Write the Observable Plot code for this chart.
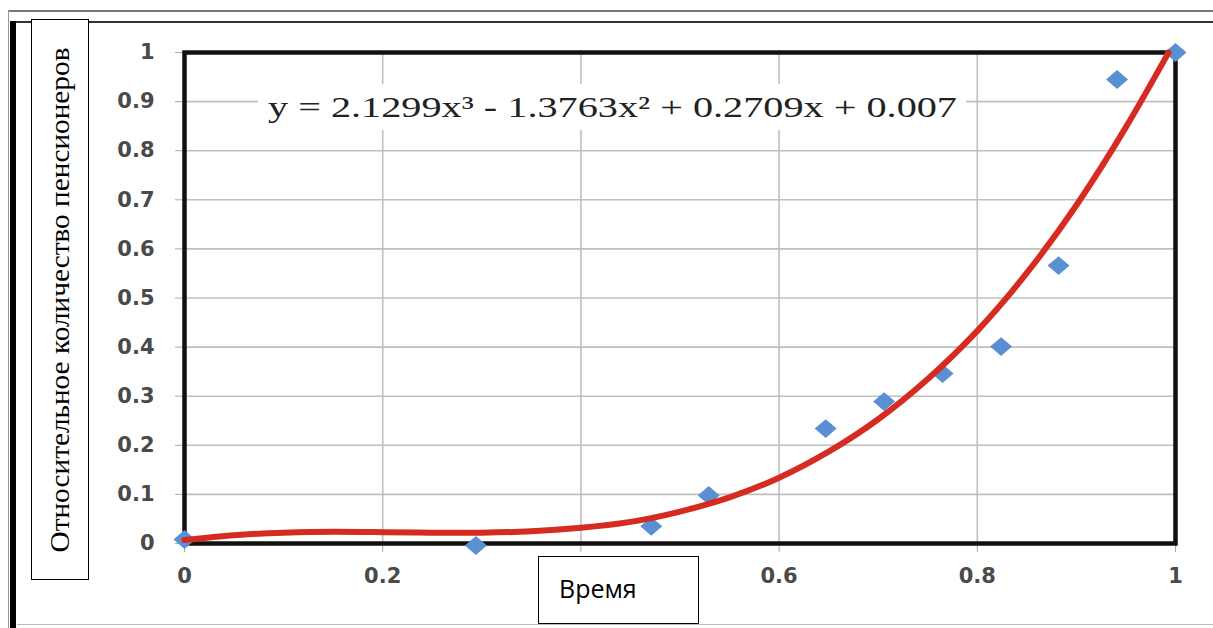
<!DOCTYPE html>
<html><head><meta charset="utf-8">
<script src="https://cdn.jsdelivr.net/npm/d3@7"></script>
<script src="https://cdn.jsdelivr.net/npm/@observablehq/plot@0.6"></script>
<style>
body{margin:0;background:#fff;}
#wrap{position:relative;width:1213px;height:628px;overflow:hidden;background:#fff;}
#chart{position:absolute;left:0;top:0;}
.line{position:absolute;}
#ylab{position:absolute;left:31px;top:19px;width:56px;height:559px;border:1.5px solid #000;background:#fff;overflow:hidden;}
#ylab span{position:absolute;left:50%;top:50%;font-family:"Liberation Serif","Times New Roman",serif;font-size:27px;line-height:1;color:#000;white-space:nowrap;}
#xlab{position:absolute;left:538px;top:556px;box-sizing:border-box;width:161px;height:68px;border:1.5px solid #000;background:#fff;font-family:"Open Sans",sans-serif;font-size:25px;line-height:62px;padding-left:20px;color:#000;}
#eqbox{position:absolute;left:258px;top:84px;width:708px;height:46px;background:#fff;}
#eq{position:absolute;left:10px;top:0;font-family:"Liberation Serif","Times New Roman",serif;font-size:30px;line-height:46px;color:#222;white-space:nowrap;transform-origin:0 50%;}
</style></head><body>
<div id="wrap">
  <div id="chart"></div>
  <div class="line" style="left:8px;top:10px;width:1205px;height:0;border-top:2px solid #777;"></div>
  <div class="line" style="left:8px;top:10px;width:0;height:618px;border-left:1.5px solid #999;"></div>
  <div class="line" style="left:10px;top:21px;width:1203px;height:0;border-top:2.5px solid #333;"></div>
  <div class="line" style="left:10px;top:21px;width:6px;height:607px;background:#000;"></div>
  <div class="line" style="left:17px;top:624px;width:1196px;height:0;border-top:1.5px solid #bbb;"></div>
  <div id="eqbox"><span id="eq"></span></div>
  <div id="ylab"><span></span></div>
  <div id="xlab"></div>
</div>
<script>
// observed points (time, relative number of pensioners)
const timeX  = [0, 0.294, 0.471, 0.529, 0.647, 0.706, 0.765, 0.824, 0.882, 0.941, 1];
const shareY = [0.008, -0.004, 0.035, 0.098, 0.234, 0.289, 0.346, 0.401, 0.566, 0.945, 1];
// trend curve
const trendX = [0, 0.05, 0.1, 0.15, 0.2, 0.25, 0.3, 0.35, 0.4, 0.45, 0.5, 0.55, 0.6, 0.65, 0.7, 0.75, 0.8, 0.85, 0.9, 0.95, 0.993];
const trendY = [0.007, 0.017, 0.022, 0.024, 0.023, 0.022, 0.022, 0.025, 0.032, 0.044, 0.065, 0.094, 0.134, 0.187, 0.253, 0.335, 0.433, 0.551, 0.689, 0.848, 1.0];
const xTicks = [0, 0.2, 0.4, 0.6, 0.8, 1];
const xTickLabels = ["0", "0.2", "", "0.6", "0.8", "1"]; // 0.4 is hidden behind the axis-title box
const yTicks = [0, 0.1, 0.2, 0.3, 0.4, 0.5, 0.6, 0.7, 0.8, 0.9, 1];
const equation = "y = 2.1299x³ - 1.3763x² + 0.2709x + 0.007";
const yLabel = "Относительное количество пенсионеров";
const xLabel = "Время";

const points = timeX.map((x, i) => ({x, y: shareY[i]}));
const trend = trendX.map((x, i) => ({x, y: trendY[i]}));

const diamond = {
  draw(ctx, size) {
    const s = Math.sqrt(size / Math.PI);
    ctx.moveTo(0, -s * 0.86);
    ctx.lineTo(s, 0);
    ctx.lineTo(0, s * 0.86);
    ctx.lineTo(-s, 0);
    ctx.closePath();
  }
};

const plot = Plot.plot({
  width: 1213, height: 628,
  marginLeft: 184, marginRight: 38, marginTop: 52, marginBottom: 85,
  x: {domain: [0, 1]},
  y: {domain: [0, 1]},
  style: {fontFamily: "DejaVu Sans, sans-serif", fontSize: "21px", background: "transparent", color: "#4a4a4a"},
  marks: [
    Plot.gridY(yTicks, {stroke: "#bfbfbf", strokeOpacity: 1, strokeWidth: 1.6}),
    Plot.gridX(xTicks, {stroke: "#bfbfbf", strokeOpacity: 1, strokeWidth: 1.6}),
    Plot.axisY(yTicks, {label: null, tickSize: 9, tickPadding: 21, stroke: "#aaa", fill: "#4a4a4a", fontWeight: "bold", tickFormat: d => String(d)}),
    Plot.axisX(xTicks, {label: null, tickSize: 9, tickPadding: 16, stroke: "#aaa", fill: "#4a4a4a", fontWeight: "bold", tickFormat: (d, i) => xTickLabels[xTicks.indexOf(d)]}),
    Plot.frame({stroke: "#111", strokeWidth: 4.5}),
    Plot.dot(points, {x: "x", y: "y", symbol: diamond, r: 11, fill: "#5b8fd3", stroke: null}),
    Plot.line(trend, {x: "x", y: "y", stroke: "#d52b20", strokeWidth: 6, curve: "natural"})
  ]
});
document.getElementById("chart").appendChild(plot);

// equation: stretch horizontally to the width seen in the reference
const eq = document.getElementById("eq");
eq.textContent = equation;
const eqW = eq.getBoundingClientRect().width;
eq.style.transform = `scaleX(${689 / eqW})`;

// rotated y-axis title, stretched along its length
const ys = document.querySelector("#ylab span");
ys.textContent = yLabel;
const yW = ys.getBoundingClientRect().width;
ys.style.transform = `translate(-50%, -50%) rotate(-90deg) scaleX(${505 / yW})`;

document.getElementById("xlab").textContent = xLabel;
</script>
</body></html>
